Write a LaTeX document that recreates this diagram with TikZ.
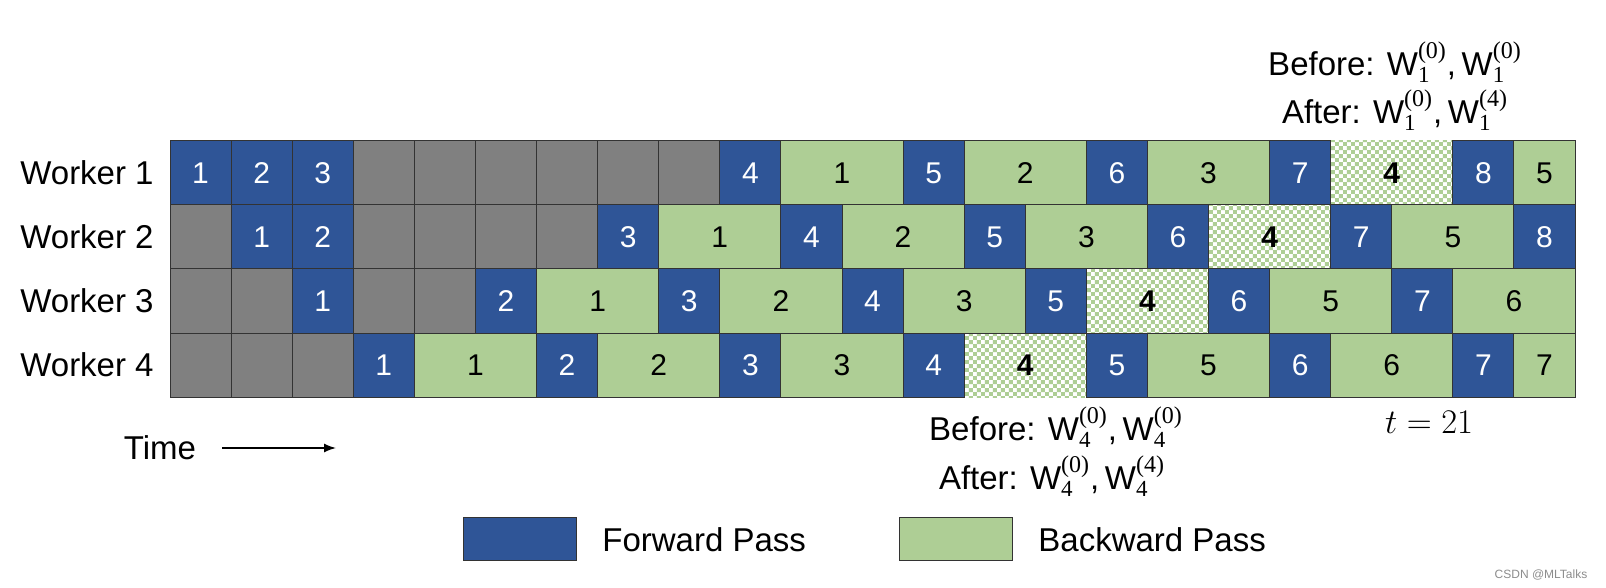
\documentclass[tikz,border=0pt]{standalone}
\usepackage{fontspec}
\setmainfont{Liberation Sans}
\newfontfamily\serifidx{Liberation Serif}
\newcommand{\wlab}[2]{W$_{\mbox{\fontsize{11.5}{12}\serifidx #1}}^{\mbox{\fontsize{12}{12}\serifidx(#2)}}$}
\usetikzlibrary{patterns,arrows.meta}
\definecolor{fblue}{HTML}{2F5597}
\definecolor{bgreen}{HTML}{AECE95}
\definecolor{idle}{HTML}{808080}
\pgfdeclarepatternformonly{mychecker}{\pgfpointorigin}{\pgfqpoint{4.2pt}{4.2pt}}{\pgfqpoint{4.2pt}{4.2pt}}{%
  \pgfpathrectangle{\pgfpointorigin}{\pgfqpoint{2.1pt}{2.1pt}}%
  \pgfpathrectangle{\pgfqpoint{2.1pt}{2.1pt}}{\pgfqpoint{2.1pt}{2.1pt}}%
  \pgfusepath{fill}}
\begin{document}
\begin{tikzpicture}[x=0.5pt,y=-0.5pt,
  cell/.style={draw=black!80, line width=0.5pt, anchor=north west, inner sep=0pt, outer sep=0pt,
    minimum height=32pt, font=\fontsize{15}{18}\selectfont},
  fwd/.style={cell, fill=fblue, text=white, minimum width=30.545pt},
  bwd/.style={cell, fill=bgreen, text=black, minimum width=#1*30.545pt},
  gap/.style={cell, fill=idle, minimum width=30.545pt},
  chk/.style={cell, draw=none, fill=white, postaction={pattern=mychecker, pattern color=bgreen},
    minimum width=61.09pt, font=\fontsize{15}{18}\selectfont\bfseries},
  lbl/.style={font=\fontsize{16.5}{20}\selectfont, inner sep=0pt},
  legbox/.style={draw=black!80, line width=0.6pt, anchor=north west, inner sep=0pt,
    minimum width=56.5pt, minimum height=21.5pt},
]
\useasboundingbox (0,0) rectangle (1606,588);

% checkered (stale-weight) backward passes
\node[chk] (c1) at ({170+19*61.09},141) {4};
\node[chk] (c2) at ({170+17*61.09},205) {4};
\node[chk] (c3) at ({170+15*61.09},269) {4};
\node[chk] (c4) at ({170+13*61.09},333) {4};

% Worker 1
\foreach \s in {3,...,8} \node[gap] (g1-\s) at ({170+\s*61.09},141) {};
\foreach \s/\t in {0/1,1/2,2/3,9/4,12/5,15/6,18/7,21/8}
  \node[fwd] (f1-\t) at ({170+\s*61.09},141) {\t};
\foreach \s/\w/\t in {10/2/1,13/2/2,16/2/3,22/1/5}
  \node[bwd=\w] (b1-\t) at ({170+\s*61.09},141) {\t};

% Worker 2
\foreach \s in {0,3,4,5,6} \node[gap] (g2-\s) at ({170+\s*61.09},205) {};
\foreach \s/\t in {1/1,2/2,7/3,10/4,13/5,16/6,19/7,22/8}
  \node[fwd] (f2-\t) at ({170+\s*61.09},205) {\t};
\foreach \s/\w/\t in {8/2/1,11/2/2,14/2/3,20/2/5}
  \node[bwd=\w] (b2-\t) at ({170+\s*61.09},205) {\t};

% Worker 3
\foreach \s in {0,1,3,4} \node[gap] (g3-\s) at ({170+\s*61.09},269) {};
\foreach \s/\t in {2/1,5/2,8/3,11/4,14/5,17/6,20/7}
  \node[fwd] (f3-\t) at ({170+\s*61.09},269) {\t};
\foreach \s/\w/\t in {6/2/1,9/2/2,12/2/3,18/2/5,21/2/6}
  \node[bwd=\w] (b3-\t) at ({170+\s*61.09},269) {\t};

% Worker 4
\foreach \s in {0,1,2} \node[gap] (g4-\s) at ({170+\s*61.09},333) {};
\foreach \s/\t in {3/1,6/2,9/3,12/4,15/5,18/6,21/7}
  \node[fwd] (f4-\t) at ({170+\s*61.09},333) {\t};
\foreach \s/\w/\t in {4/2/1,7/2/2,10/2/3,16/2/5,19/2/6,22/1/7}
  \node[bwd=\w] (b4-\t) at ({170+\s*61.09},333) {\t};

% worker labels
\node[lbl, anchor=east] (w1) at (154,173) {Worker 1};
\node[lbl, anchor=east] (w2) at (154,237) {Worker 2};
\node[lbl, anchor=east] (w3) at (154,301) {Worker 3};
\node[lbl, anchor=east] (w4) at (154,365) {Worker 4};

% annotations
\node[lbl] (before1) at (1395,62) {Before: \wlab{1}{0},\,\wlab{1}{0}};
\node[lbl] (after1) at (1395,110) {After: \wlab{1}{0},\,\wlab{1}{4}};
\node[lbl] (before4) at (1056,427) {Before: \wlab{4}{0},\,\wlab{4}{0}};
\node[lbl] (after4) at (1052,476) {After: \wlab{4}{0},\,\wlab{4}{4}};
\node[lbl] (tlabel) at (1429,422) {$t = 21$};

% time arrow
\node[lbl] (time) at (160,448) {Time};
\coordinate (tend) at (336,448);
\draw[line width=0.75pt, -{Latex[length=6pt,width=4.5pt]}] ([xshift=13pt]time.east) -- (tend);

% legend
\node[legbox, fill=fblue] (lf) at (463,517) {};
\node[lbl, anchor=west] (lft) at (602,540) {Forward Pass};
\node[legbox, fill=bgreen] (lb) at (899,517) {};
\node[lbl, anchor=west] (lbt) at (1038,540) {Backward Pass};

% watermark
\node[font=\fontsize{6}{7}\selectfont, text=black!45, inner sep=0pt] (wm) at (1541,575) {CSDN @MLTalks};
\end{tikzpicture}
\end{document}
